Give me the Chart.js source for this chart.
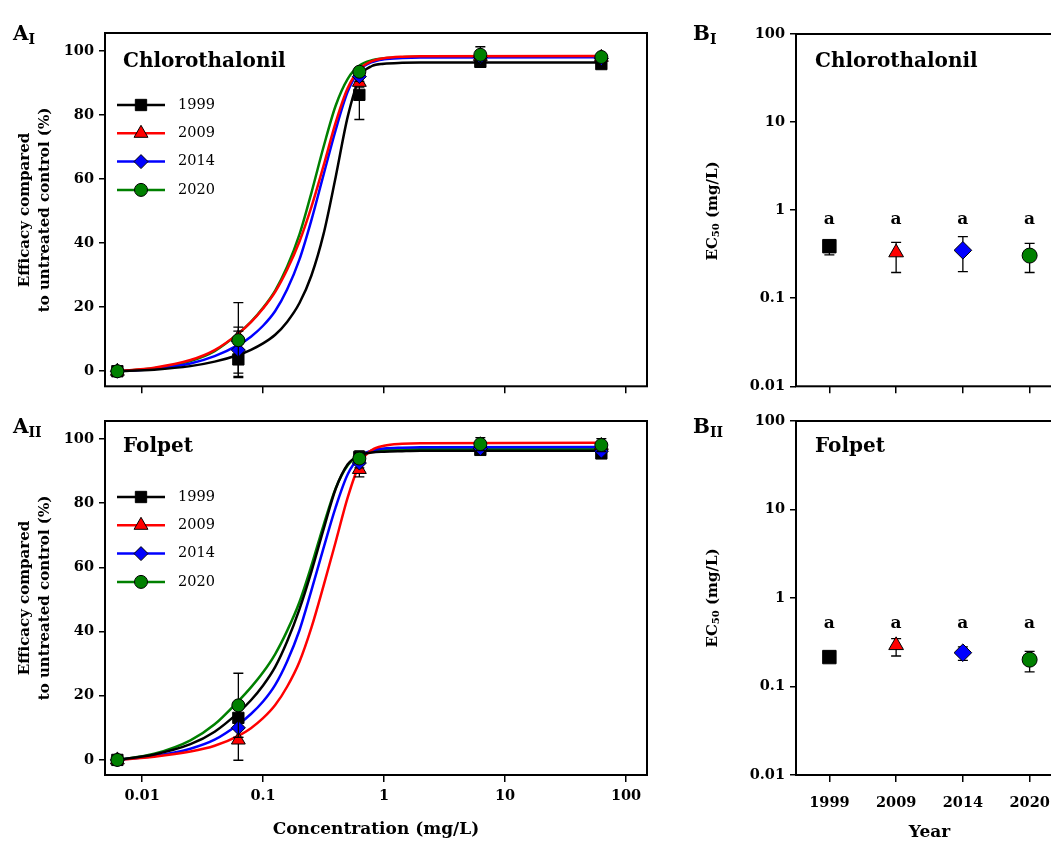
<!DOCTYPE html>
<html>
<head>
<meta charset="utf-8">
<script src="https://cdn.jsdelivr.net/npm/chart.js@4.4.1/dist/chart.umd.min.js"></script>
<style>
  html, body { margin: 0; padding: 0; overflow: hidden; background: #fff; }
  body { width: 1051px; height: 841px; position: relative; }
  canvas { position: absolute; }
</style>
</head>
<body>
<canvas id="effChloro" width="660" height="400" style="left:0;top:0"></canvas>
<canvas id="effFolpet" width="660" height="441" style="left:0;top:400px"></canvas>
<canvas id="ecChloro" width="400" height="400" style="left:680px;top:0"></canvas>
<canvas id="ecFolpet" width="400" height="450" style="left:680px;top:400px"></canvas>
<script>
// ---- data ----
const years = ["1999", "2009", "2014", "2020"];
const concentrations = [0.00625, 0.0625, 0.625, 6.25, 62.5];
const concTicks = [0.01, 0.1, 1, 10, 100];
const effTicks = [0, 20, 40, 60, 80, 100];
const ecTicks = [0.01, 0.1, 1, 10, 100];

// fitted dose-response curves
const curveConc = [0.00625, 0.0126, 0.0251, 0.0398, 0.0631, 0.0794, 0.1, 0.126, 0.158, 0.2, 0.251, 0.316, 0.398, 0.501, 0.631, 0.794, 1, 1.41, 2, 62.5];
const chloroFit1999 = [0, 0.5, 1.6, 3.0, 5.15, 6.7, 8.7, 11.4, 15.4, 21.3, 29.9, 42.8, 60.6, 79.5, 91.8, 95.3, 96.0, 96.3, 96.4, 96.4];
const chloroFit2009 = [0, 1.1, 3.5, 6.6, 11.9, 15.3, 19.6, 24.8, 31.7, 40.5, 51.3, 64.1, 77.6, 88.4, 94.4, 96.8, 97.7, 98.2, 98.35, 98.4];
const chloroFit2014 = [0, 0.7, 2.4, 4.7, 8.3, 10.8, 14.2, 18.8, 25.5, 34.9, 47.2, 61.3, 75.3, 87.3, 94.1, 96.5, 97.4, 97.8, 97.95, 98];
const chloroFit2020 = [0, 0.9, 3.2, 6.3, 11.9, 15.4, 19.8, 25.2, 32.6, 42.7, 55.7, 70, 82.9, 91.3, 95.5, 97.1, 97.7, 98.05, 98.15, 98.2];
const folpetFit1999 = [0, 1.7, 4.9, 8.8, 14.9, 18.6, 23.2, 29, 36.9, 47, 58.7, 71.8, 84.4, 92.1, 94.9, 95.8, 96.05, 96.2, 96.3, 96.3];
const folpetFit2009 = [0, 1.0, 2.6, 4.4, 7.6, 9.9, 13, 17.1, 22.8, 30.6, 41.2, 54.2, 67.9, 81.8, 92.4, 96.6, 97.9, 98.5, 98.7, 98.8];
const folpetFit2014 = [0, 1.2, 3.5, 6.3, 11.2, 14.3, 18.2, 23.4, 30.7, 40.4, 52.8, 66, 78.7, 89, 94.4, 96.4, 97, 97.3, 97.45, 97.5];
const folpetFit2020 = [0, 1.9, 6.1, 11.1, 18.5, 22.6, 27.3, 33, 40.2, 49.2, 60.5, 73.1, 84.6, 91.8, 95, 96.1, 96.45, 96.7, 96.8, 96.8];

// observed efficacy (%) and error
const chloro1999 = [0, 3.7, 86.3, 96.6, 95.9];
const chloro2009 = [0, 10.5, 90.2, 98.3, 98];
const chloro2014 = [0, 6.6, 92, 98, 97.6];
const chloro2020 = [0, 9.7, 93.5, 98.8, 98.1];
const chloro1999Sd = [0, 5.3, 7.7, 0.8, 0.8];
const chloro2009Sd = [0, 2, 1.5, 0.8, 0.8];
const chloro2014Sd = [0, 7.2, 1.5, 0.8, 0.8];
const chloro2020Sd = [0, 11.7, 1, 2.5, 1];
const folpet1999 = [0, 13.1, 94.4, 96.6, 95.5];
const folpet2009 = [0, 6.2, 90.5, 98.2, 98];
const folpet2014 = [0, 10, 92.5, 97, 96.2];
const folpet2020 = [0, 17, 93.9, 98.4, 98.1];
const folpet1999Sd = [0, 3, 1.9, 0.8, 0.8];
const folpet2009Sd = [0, 6.3, 2.3, 0.8, 0.8];
const folpet2014Sd = [0, 3, 1.5, 0.8, 0.8];
const folpet2020Sd = [0, 10, 1.5, 2, 2];

// EC50 (mg/L) with lower / upper bounds
const ec50Chloro = [0.39, 0.33, 0.35, 0.305];
const ec50ChloroLow = [0.31, 0.196, 0.2, 0.196];
const ec50ChloroHigh = [0.45, 0.43, 0.5, 0.42];
const ec50Folpet = [0.215, 0.292, 0.241, 0.201];
const ec50FolpetLow = [0.215, 0.221, 0.197, 0.146];
const ec50FolpetHigh = [0.215, 0.348, 0.28, 0.25];
const groupLetters = ["a", "a", "a", "a"];

// ---- styles ----
const FONT = "'DejaVu Serif', serif";
const yearColors = ["#000000", "#ff0000", "#0000ff", "#008000"];
const markerStyles = ["rect", "triangle", "rectRot", "circle"];
const markerRadiusA = [8, 8, 7, 6.5];
const markerRadiusB = [9.5, 8.5, 8.8, 7.5];
const pointOrder = [4, 3, 2, 1];
const curveOrder = [5, 6, 7, 8];

const font = (size, weight) => ({ family: FONT, size: size, weight: weight || "bold" });
const fontStr = (size, weight) => (weight || "bold") + " " + size + "px " + FONT;

// error bars, drawn just under each dataset's markers
const errorBars = {
  id: "errorBars",
  beforeDatasetDraw(chart, args) {
    const ds = chart.data.datasets[args.index];
    if (!ds.bars) return;
    const ctx = chart.ctx;
    const y = chart.scales.y;
    ctx.save();
    ctx.strokeStyle = "#000";
    ctx.lineWidth = 1.3;
    args.meta.data.forEach((pt, i) => {
      const [lo, hi] = ds.bars[i];
      if (lo === hi) return;
      const y1 = y.getPixelForValue(lo);
      const y2 = y.getPixelForValue(hi);
      ctx.beginPath();
      ctx.moveTo(pt.x, y1); ctx.lineTo(pt.x, y2);
      ctx.moveTo(pt.x - 5, y1); ctx.lineTo(pt.x + 5, y1);
      ctx.moveTo(pt.x - 5, y2); ctx.lineTo(pt.x + 5, y2);
      ctx.stroke();
    });
    ctx.restore();
  }
};

const frame = {
  id: "frame",
  afterDraw(chart) {
    const { ctx, chartArea: a } = chart;
    ctx.save();
    ctx.strokeStyle = "#000";
    ctx.lineWidth = 2;
    ctx.strokeRect(a.left, a.top, a.right - a.left, a.bottom - a.top);
    ctx.restore();
  }
};

// free text: panel tags, titles, rotated axis titles with subscripts
const notes = {
  id: "notes",
  afterDraw(chart, args, opts) {
    const ctx = chart.ctx;
    (opts.items || []).forEach((n) => {
      ctx.save();
      ctx.fillStyle = "#000";
      ctx.textBaseline = n.baseline || "alphabetic";
      ctx.translate(n.x, n.y);
      if (n.rotate) ctx.rotate(n.rotate);
      const parts = n.parts || [{ text: n.text, size: n.size }];
      let w = 0;
      parts.forEach((p) => { ctx.font = fontStr(p.size, n.weight); w += ctx.measureText(p.text).width; });
      let x = n.align === "center" ? -w / 2 : 0;
      parts.forEach((p) => {
        ctx.font = fontStr(p.size, n.weight);
        ctx.fillText(p.text, x, p.dy || 0);
        x += ctx.measureText(p.text).width;
      });
      ctx.restore();
    });
  }
};

const yearLegend = {
  id: "yearLegend",
  afterDatasetsDraw(chart, args, opts) {
    if (opts.x === undefined) return;
    const ctx = chart.ctx;
    chart.data.datasets.filter((d) => d.isPoints).forEach((ds, k) => {
      const y = opts.y + k * opts.dy;
      ctx.save();
      ctx.strokeStyle = ds.borderColor;
      ctx.lineWidth = 2.5;
      ctx.beginPath();
      ctx.moveTo(opts.x, y); ctx.lineTo(opts.x + 48, y);
      ctx.stroke();
      ctx.fillStyle = ds.pointBackgroundColor;
      ctx.strokeStyle = "#000";
      ctx.lineWidth = 1;
      Chart.helpers.drawPoint(ctx, { pointStyle: ds.pointStyle, radius: ds.pointRadius, rotation: 0, borderWidth: 1 }, opts.x + 24, y);
      ctx.fillStyle = "#000";
      ctx.font = fontStr(14.5, "normal");
      ctx.textBaseline = "middle";
      ctx.fillText(ds.label, opts.x + 61, y);
      ctx.restore();
    });
  }
};

const letters = {
  id: "letters",
  afterDatasetsDraw(chart, args, opts) {
    if (!opts.text) return;
    const { ctx } = chart;
    const { x, y } = chart.scales;
    ctx.save();
    ctx.fillStyle = "#000";
    ctx.font = fontStr(17);
    ctx.textAlign = "center";
    ctx.textBaseline = "middle";
    opts.text.forEach((t, i) => ctx.fillText(t, x.getPixelForValue(i), y.getPixelForValue(opts.level)));
    ctx.restore();
  }
};

function tickGrid() {
  return { drawOnChartArea: false, drawTicks: true, tickLength: 7, color: "#000", lineWidth: 1.5 };
}

function efficacyChart(id, fits, means, sds, opt) {
  const datasets = [];
  years.forEach((yr, k) => {
    datasets.push({
      label: yr + " fit",
      data: curveConc.map((c, i) => ({ x: c, y: fits[k][i] })),
      borderColor: yearColors[k],
      borderWidth: 2.5,
      pointRadius: 0,
      cubicInterpolationMode: "monotone",
      order: curveOrder[k]
    });
  });
  years.forEach((yr, k) => {
    datasets.push({
      label: yr,
      isPoints: true,
      data: concentrations.map((c, i) => ({ x: c, y: means[k][i] })),
      bars: means[k].map((v, i) => [v - sds[k][i], v + sds[k][i]]),
      showLine: false,
      borderColor: yearColors[k],
      pointStyle: markerStyles[k],
      pointRadius: markerRadiusA[k],
      pointBackgroundColor: yearColors[k],
      pointBorderColor: "#000",
      pointBorderWidth: 1,
      order: pointOrder[k]
    });
  });
  return new Chart(document.getElementById(id), {
    type: "line",
    data: { datasets },
    options: {
      responsive: false,
      animation: false,
      events: [],
      layout: { padding: opt.padding },
      plugins: {
        legend: { display: false },
        tooltip: { enabled: false },
        notes: { items: opt.notes },
        yearLegend: opt.legend
      },
      scales: {
        x: {
          type: "logarithmic",
          min: 0.00494,
          max: 149,
          afterBuildTicks: (s) => { s.ticks = concTicks.map((v) => ({ value: v })); },
          afterFit: (s) => { s.height = opt.xHeight; },
          ticks: { display: opt.showX, color: "#000", font: font(14.5), padding: 6, maxRotation: 0, autoSkip: false, callback: (v) => String(v) },
          grid: tickGrid(),
          border: { display: false },
          title: { display: opt.showX, text: "Concentration (mg/L)", color: "#000", font: font(17), padding: { top: 0, bottom: 1 } }
        },
        y: {
          type: "linear",
          min: -4.7,
          max: 105.6,
          afterBuildTicks: (s) => { s.ticks = effTicks.map((v) => ({ value: v })); },
          afterFit: (s) => { s.width = 105; },
          ticks: { color: "#000", font: font(14.5), padding: 5 },
          grid: Object.assign(tickGrid(), { tickLength: 6 }),
          border: { display: false }
        }
      }
    },
    plugins: [errorBars, frame, notes, yearLegend]
  });
}

function ec50Chart(id, values, low, high, opt) {
  return new Chart(document.getElementById(id), {
    type: "line",
    data: {
      labels: years,
      datasets: [{
        label: "EC50",
        data: values,
        bars: values.map((v, i) => [low[i], high[i]]),
        showLine: false,
        pointStyle: markerStyles,
        pointRadius: markerRadiusB,
        pointBackgroundColor: yearColors,
        pointBorderColor: "#000",
        pointBorderWidth: 1
      }]
    },
    options: {
      responsive: false,
      animation: false,
      events: [],
      layout: { padding: opt.padding },
      plugins: {
        legend: { display: false },
        tooltip: { enabled: false },
        notes: { items: opt.notes },
        letters: { text: groupLetters, level: opt.letterLevel }
      },
      scales: {
        x: {
          type: "category",
          offset: true,
          afterFit: (s) => { s.height = opt.xHeight; },
          ticks: { display: opt.showX, color: "#000", font: font(14.5), padding: 13, maxRotation: 0 },
          grid: tickGrid(),
          border: { display: false },
          title: { display: opt.showX, text: "Year", color: "#000", font: font(17), padding: { top: 0, bottom: 7 } }
        },
        y: {
          type: "logarithmic",
          min: 0.01,
          max: 100,
          afterBuildTicks: (s) => { s.ticks = ecTicks.map((v) => ({ value: v })); },
          afterFit: (s) => { s.width = 116; },
          ticks: { color: "#000", font: font(14.5), padding: 5, callback: (v) => String(v) },
          grid: Object.assign(tickGrid(), { tickLength: 6 }),
          border: { display: false }
        }
      }
    },
    plugins: [errorBars, frame, notes, letters]
  });
}

const ROT = -Math.PI / 2;

efficacyChart("effChloro",
  [chloroFit1999, chloroFit2009, chloroFit2014, chloroFit2020],
  [chloro1999, chloro2009, chloro2014, chloro2020],
  [chloro1999Sd, chloro2009Sd, chloro2014Sd, chloro2020Sd],
  {
    padding: { left: 0, top: 33, right: 13, bottom: 0 },
    xHeight: 12,
    showX: false,
    legend: { x: 117, y: 105, dy: 28.3 },
    notes: [
      { x: 13, y: 40, parts: [{ text: "A", size: 20 }, { text: "I", size: 14, dy: 4 }] },
      { x: 123, y: 67, text: "Chlorothalonil", size: 20 },
      { x: 25, y: 210, rotate: ROT, align: "center", baseline: "middle", text: "Efficacy compared", size: 15 },
      { x: 45, y: 210, rotate: ROT, align: "center", baseline: "middle", text: "to untreated control (%)", size: 15 }
    ]
  });

efficacyChart("effFolpet",
  [folpetFit1999, folpetFit2009, folpetFit2014, folpetFit2020],
  [folpet1999, folpet2009, folpet2014, folpet2020],
  [folpet1999Sd, folpet2009Sd, folpet2014Sd, folpet2020Sd],
  {
    padding: { left: 0, top: 21, right: 13, bottom: 0 },
    xHeight: 66,
    showX: true,
    legend: { x: 117, y: 97, dy: 28.3 },
    notes: [
      { x: 13, y: 33, parts: [{ text: "A", size: 20 }, { text: "II", size: 14, dy: 4 }] },
      { x: 123, y: 52, text: "Folpet", size: 20 },
      { x: 25, y: 198, rotate: ROT, align: "center", baseline: "middle", text: "Efficacy compared", size: 15 },
      { x: 45, y: 198, rotate: ROT, align: "center", baseline: "middle", text: "to untreated control (%)", size: 15 }
    ]
  });

ec50Chart("ecChloro", ec50Chloro, ec50ChloroLow, ec50ChloroHigh, {
  padding: { left: 0, top: 34, right: 17, bottom: 0 },
  xHeight: 12,
  showX: false,
  letterLevel: 0.78,
  notes: [
    { x: 13, y: 40, parts: [{ text: "B", size: 20 }, { text: "I", size: 14, dy: 4 }] },
    { x: 135, y: 67, text: "Chlorothalonil", size: 20 },
    { x: 33, y: 211, rotate: ROT, align: "center", baseline: "middle",
      parts: [{ text: "EC", size: 15 }, { text: "50", size: 10, dy: 3 }, { text: " (mg/L)", size: 15 }] }
  ]
});

ec50Chart("ecFolpet", ec50Folpet, ec50FolpetLow, ec50FolpetHigh, {
  padding: { left: 0, top: 21, right: 17, bottom: 0 },
  xHeight: 75,
  showX: true,
  letterLevel: 0.52,
  notes: [
    { x: 13, y: 33, parts: [{ text: "B", size: 20 }, { text: "II", size: 14, dy: 4 }] },
    { x: 135, y: 52, text: "Folpet", size: 20 },
    { x: 33, y: 198, rotate: ROT, align: "center", baseline: "middle",
      parts: [{ text: "EC", size: 15 }, { text: "50", size: 10, dy: 3 }, { text: " (mg/L)", size: 15 }] }
  ]
});
</script>
</body>
</html>
